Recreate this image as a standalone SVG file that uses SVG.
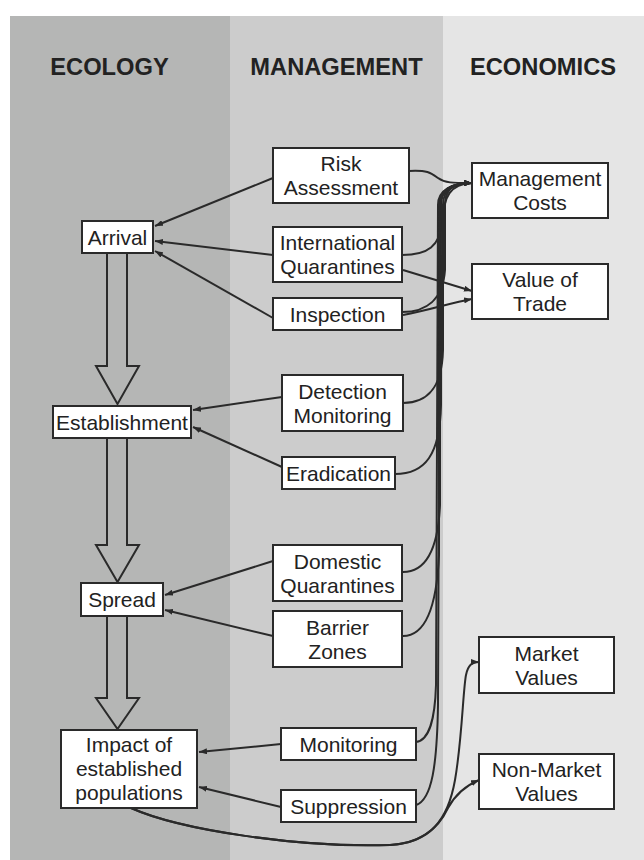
<svg xmlns="http://www.w3.org/2000/svg" width="644" height="860" viewBox="0 0 644 860">
<defs>
<marker id="ah" viewBox="0 0 8 6" refX="8" refY="3" markerWidth="8" markerHeight="6" markerUnits="userSpaceOnUse" orient="auto">
<path d="M0,0 L8,3 L0,6 z" fill="#2a2a2a"/>
</marker>
<style>
.box{fill:#fff;stroke:#2a2a2a;stroke-width:2}
.t{font-family:"Liberation Sans",Arial,sans-serif;font-size:21px;fill:#222;text-anchor:middle}
.h{font-family:"Liberation Sans",Arial,sans-serif;font-size:23.7px;font-weight:bold;fill:#222;text-anchor:middle}
.c{fill:none;stroke:#2a2a2a;stroke-width:2}
.ca{fill:none;stroke:#2a2a2a;stroke-width:2;marker-end:url(#ah)}
.blk{fill:none;stroke:#2a2a2a;stroke-width:2;stroke-linejoin:miter}
</style>
</defs>
<rect x="0" y="0" width="644" height="860" fill="#fff"/>
<g id="panels">
<rect x="10" y="16" width="220" height="844" fill="#b5b6b5"/>
<rect x="230" y="16" width="213" height="844" fill="#cccccc"/>
<rect x="443" y="16" width="201" height="844" fill="#e5e5e5"/>
<text class="h" x="109.5" y="75">ECOLOGY</text>
<text class="h" x="336.5" y="75">MANAGEMENT</text>
<text class="h" x="543" y="75">ECONOMICS</text>
</g>
<g id="connectors">
<polygon class="blk" points="107,253 127,253 127,366 139,366 117.5,404 96,366 107,366"/>
<polygon class="blk" points="107,438 127,438 127,545 139,545 117.5,582 96,545 107,545"/>
<polygon class="blk" points="107,616 127,616 127,698 139,698 117.5,729 96,698 107,698"/>
<path class="ca" d="M273,178 L155,226"/>
<path class="ca" d="M273,255 L155,241"/>
<path class="ca" d="M273,318 L155,251"/>
<path class="ca" d="M282,397 L193,410"/>
<path class="ca" d="M282,467 L193,427"/>
<path class="ca" d="M273,561 L165,595"/>
<path class="ca" d="M273,636 L165,610"/>
<path class="ca" d="M281,744 L199,752"/>
<path class="ca" d="M281,807 L199,787"/>
<path class="ca" d="M409,171 C428,170 431,173 438,178 C445,183 452,183 472,183"/>
<path class="ca" d="M402,255 C428,255 440,246 442,222 C444,196 450,184 472,183"/>
<path class="ca" d="M402,312 C426,312 443,300 445,270 L445,205 C445,190 452,183 472,183"/>
<path class="ca" d="M403,403 C426,403 442,390 443,350 L443,205 C443,190 452,183 472,183"/>
<path class="ca" d="M395,474 C425,474 440,455 441,405 L441,205 C441,190 452,183 472,183"/>
<path class="ca" d="M403,572 C426,572 438,550 440,505 L440,205 C440,190 452,183 472,183"/>
<path class="ca" d="M403,636 C428,636 437,600 439,555 L439,205 C439,190 452,183 472,183"/>
<path class="ca" d="M416,742 C430,740 435,718 436,685 L438,205 C438,190 452,183 472,183"/>
<path class="ca" d="M416,805 C432,800 437,765 438,705 L440,205 C440,190 452,183 472,183"/>
<path class="ca" d="M403,270 L472,291"/>
<path class="ca" d="M403,315 C430,310 450,303 472,299"/>
<path class="ca" d="M131,808 C180,830 300,848 390,845 C430,843 448,820 455,780 C462,740 463,690 466,675 C468,665 472,662 479,662"/>
<path class="ca" d="M131,808 C180,830 300,848 390,845 C425,843 440,825 448,808 C455,795 465,786 479,780"/>
</g>
<g id="risk"><rect class="box" x="273" y="148" width="136" height="55"/><text class="t" x="341" y="171">Risk</text><text class="t" x="341" y="195">Assessment</text></g>
<g id="intl"><rect class="box" x="273" y="227" width="129" height="55"/><text class="t" x="337.5" y="250">International</text><text class="t" x="337.5" y="274">Quarantines</text></g>
<g id="inspection"><rect class="box" x="273" y="298" width="129" height="32"/><text class="t" x="337.5" y="321.5">Inspection</text></g>
<g id="mgmtcosts"><rect class="box" x="472" y="163" width="136" height="55"/><text class="t" x="540" y="186">Management</text><text class="t" x="540" y="210">Costs</text></g>
<g id="valuetrade"><rect class="box" x="472" y="264" width="136" height="55"/><text class="t" x="540" y="287">Value of</text><text class="t" x="540" y="311">Trade</text></g>
<g id="arrival"><rect class="box" x="82" y="221" width="71" height="32"/><text class="t" x="117.5" y="244.5">Arrival</text></g>
<g id="establishment"><rect class="box" x="53" y="406" width="138" height="32"/><text class="t" x="122" y="429.5">Establishment</text></g>
<g id="detection"><rect class="box" x="282" y="375" width="121" height="56"/><text class="t" x="342.5" y="398.5">Detection</text><text class="t" x="342.5" y="422.5">Monitoring</text></g>
<g id="eradication"><rect class="box" x="282" y="457" width="113" height="32"/><text class="t" x="338.5" y="480.5">Eradication</text></g>
<g id="spread"><rect class="box" x="81" y="583" width="82" height="33"/><text class="t" x="122" y="607">Spread</text></g>
<g id="domestic"><rect class="box" x="273" y="545" width="129" height="56"/><text class="t" x="337.5" y="568.5">Domestic</text><text class="t" x="337.5" y="592.5">Quarantines</text></g>
<g id="barrier"><rect class="box" x="273" y="611" width="129" height="56"/><text class="t" x="337.5" y="634.5">Barrier</text><text class="t" x="337.5" y="658.5">Zones</text></g>
<g id="market"><rect class="box" x="479" y="637" width="135" height="56"/><text class="t" x="546.5" y="660.5">Market</text><text class="t" x="546.5" y="684.5">Values</text></g>
<g id="impact"><rect class="box" x="61" y="730" width="136" height="78"/><text class="t" x="129" y="752">Impact of</text><text class="t" x="129" y="776">established</text><text class="t" x="129" y="799.5">populations</text></g>
<g id="monitoring"><rect class="box" x="281" y="728" width="135" height="32"/><text class="t" x="348.5" y="751.5">Monitoring</text></g>
<g id="suppression"><rect class="box" x="281" y="790" width="135" height="32"/><text class="t" x="348.5" y="813.5">Suppression</text></g>
<g id="nonmarket"><rect class="box" x="479" y="754" width="135" height="55"/><text class="t" x="546.5" y="777">Non-Market</text><text class="t" x="546.5" y="801">Values</text></g>
</svg>
